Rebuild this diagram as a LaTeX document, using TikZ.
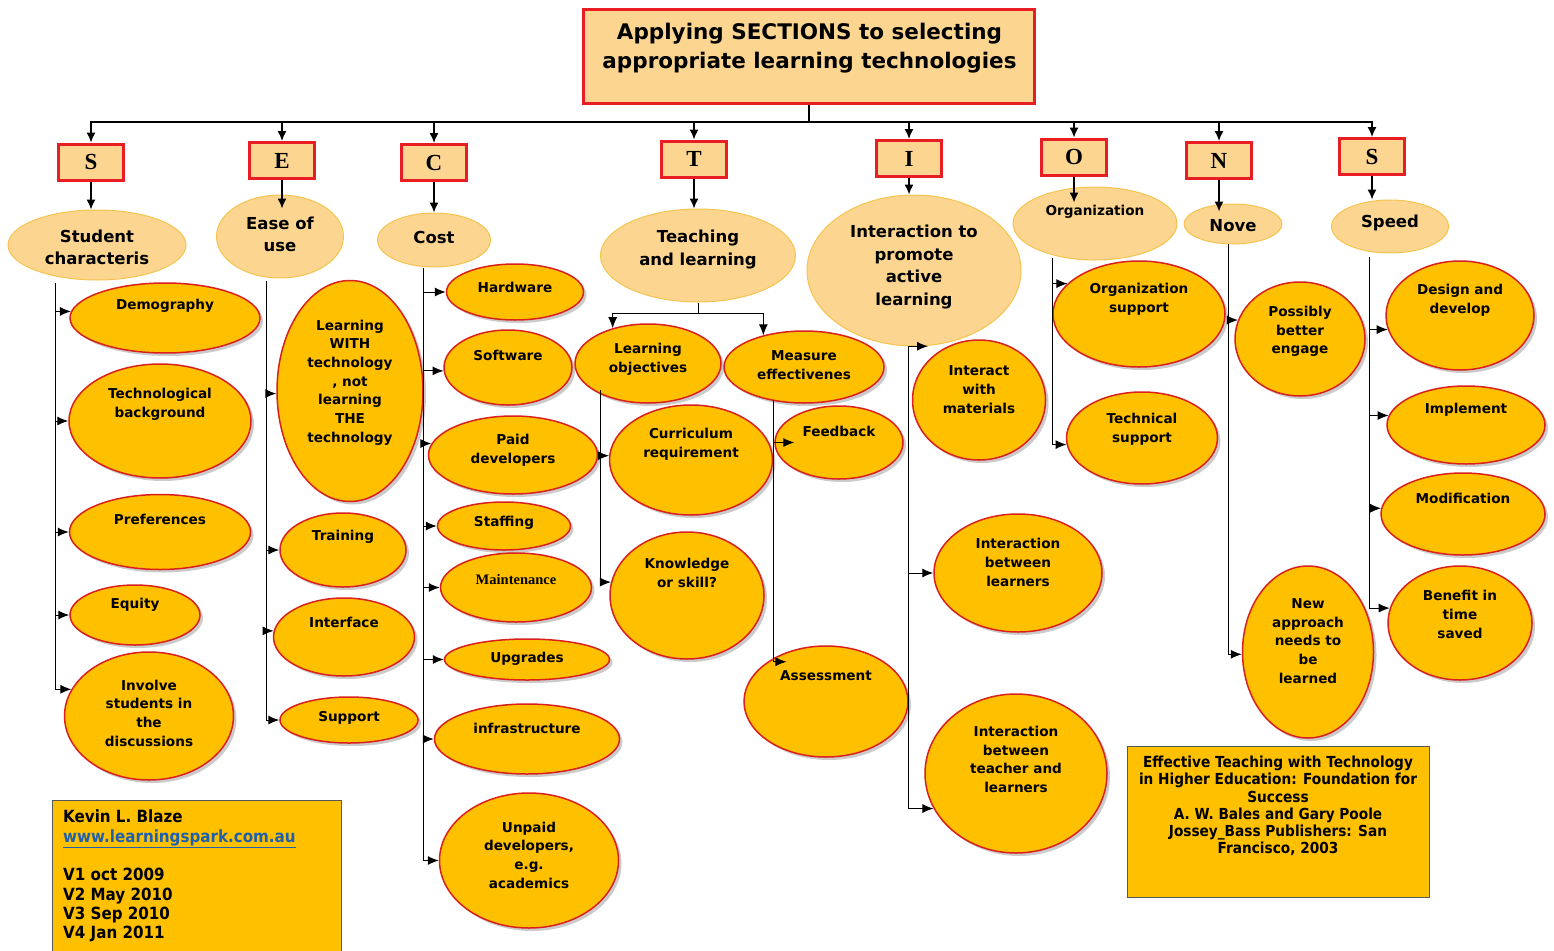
\documentclass[tikz,border=0pt]{standalone}
\usepackage{fontspec}
\setmainfont{DejaVu Sans}
\newfontfamily\letterfont{Liberation Serif}
\newfontfamily\narrowfont[FakeStretch=0.9]{DejaVu Sans}
\usepackage{tikz}
\usetikzlibrary{positioning, shapes.geometric, shadows, arrows.meta}
\definecolor{RedLine}{RGB}{232,30,36}
\definecolor{PaleFill}{RGB}{252,214,145}
\definecolor{CatLine}{RGB}{244,196,78}
\definecolor{ItemFill}{RGB}{255,192,0}
\definecolor{ItemLine}{RGB}{218,32,28}
\definecolor{LinkBlue}{RGB}{30,96,172}
\tikzset{TitleBox/.style={%
    shape=rectangle,%
    draw=RedLine,%
    fill=PaleFill,%
    line width=3pt,%
    inner sep=0pt,%
}}
\tikzset{TitleText/.style={%
    align=center,%
    inner sep=0pt,%
    font=\bfseries\fontsize{21.5}{29}\selectfont,%
}}
\tikzset{LetterBox/.style={%
    shape=rectangle,%
    draw=RedLine,%
    fill=PaleFill,%
    line width=3pt,%
    minimum width=65pt,%
    minimum height=36pt,%
    inner sep=0pt,%
    font=\letterfont\bfseries\fontsize{23}{23}\selectfont,%
}}
\tikzset{TopicNode/.style={%
    shape=ellipse,%
    draw=CatLine,%
    fill=PaleFill,%
    line width=1pt,%
    inner sep=0pt,%
}}
\tikzset{TopicText/.style={%
    align=center,%
    inner sep=0pt,%
    font=\bfseries\fontsize{16.5}{22.5}\selectfont,%
}}
\tikzset{TopicSmallNode/.style={TopicNode}}
\tikzset{TopicSmallText/.style={ItemText}}
\tikzset{ItemNode/.style={%
    shape=ellipse,%
    draw=ItemLine,%
    fill=ItemFill,%
    line width=1.5pt,%
    inner sep=0pt,%
    drop shadow={shadow xshift=3pt, shadow yshift=-3pt, fill=black!40, opacity=0.5},%
}}
\tikzset{ItemText/.style={%
    align=center,%
    inner sep=0pt,%
    font=\bfseries\fontsize{13.6}{18.7}\selectfont,%
}}
\tikzset{SerifNode/.style={ItemNode}}
\tikzset{SerifText/.style={%
    align=center,%
    inner sep=0pt,%
    font=\letterfont\bfseries\fontsize{14.5}{18.7}\selectfont,%
}}
\tikzset{InfoBox/.style={%
    shape=rectangle,%
    draw=black!65,%
    fill=ItemFill,%
    line width=1pt,%
    inner sep=0pt,%
}}
\tikzset{AuthorText/.style={%
    align=left,%
    inner sep=0pt,%
    font=\narrowfont\bfseries\fontsize{16.8}{19.3}\selectfont,%
}}
\tikzset{RefText/.style={%
    align=center,%
    inner sep=0pt,%
    font=\narrowfont\bfseries\fontsize{15.2}{17.2}\selectfont,%
}}
\tikzset{NormalEdge/.style={%
    line width=1.4pt,%
}}
\tikzset{BusArrow/.style={%
    -{Latex[length=10pt,width=9pt]},%
    line width=1.4pt,%
}}
\tikzset{EdgeArrow/.style={%
    -{Latex[length=11pt,width=9pt]},%
    line width=1pt,%
}}
% ellipse with its text: [style] name, x, y, width, height, text y, text
\NewDocumentCommand{\bubble}{O{Item} m m m m m m m}{%
    \node[#1Node, minimum width=#5, minimum height=#6] (#2) at (#3,#4) {};%
    \node[#1Text] (#2Text) at (#3,#7) {#8};%
}

\begin{document}
\begin{tikzpicture}[x=1pt, y=-1pt]
    \fill[white] (0,0) rectangle (1554,950);
    \useasboundingbox (0,0) rectangle (1554,950);

    % heading
    \node[TitleBox, minimum width=451, minimum height=94] (titleBox) at (809,56.5) {};
    \node[TitleText] (titleText) at (809.5,48) {Applying SECTIONS to selecting\\appropriate learning technologies};

    % the letters
    \node[LetterBox] (lS1) at (91,162) {S};
    \node[LetterBox] (lE) at (282,160.5) {E};
    \node[LetterBox] (lC) at (434,162.5) {C};
    \node[LetterBox] (lT) at (694,159) {T};
    \node[LetterBox] (lI) at (909,158.5) {I};
    \node[LetterBox] (lO) at (1074,157) {O};
    \node[LetterBox] (lN) at (1219,160.5) {N};
    \node[LetterBox] (lS2) at (1372,156.5) {S};

    % topics
    \bubble[Topic]{sc}{97}{245}{178}{70}{247.5}{Student\\characteris}
    \bubble[Topic]{ease}{280}{236.5}{127}{83}{234.5}{Ease of\\use}
    \bubble[Topic]{cost}{434}{240}{113}{54}{237}{Cost}
    \bubble[Topic]{tl}{698}{255.5}{195}{93}{249.5}{Teaching\\and learning}
    \bubble[Topic]{ipal}{914}{270.5}{214}{151}{267}{Interaction to\\promote\\active\\learning}
    \bubble[TopicSmall]{org}{1095}{223.5}{164}{73}{212}{Organization}
    \bubble[Topic]{nove}{1233}{224}{98}{40}{226}{Nove}
    \bubble[Topic]{speed}{1390}{226.5}{117}{53}{223}{Speed}

    % S
    \bubble{demo}{165}{318}{190}{70}{306}{Demography}
    \bubble{tech}{160}{421}{182}{114}{404.5}{Technological\\background}
    \bubble{pref}{160}{532}{181}{75}{519}{Preferences}
    \bubble{equity}{135}{615}{130}{60}{605}{Equity}
    \bubble{invol}{149}{716}{169}{128}{713}{Involve\\students in\\the\\discussions}
    % E
    \bubble{lwt}{350}{391}{146}{221}{382.5}{Learning\\WITH\\technology\\, not\\learning\\THE\\technology}
    \bubble{train}{343}{550}{126}{74}{537}{Training}
    \bubble{interf}{344}{637}{141}{78}{622}{Interface}
    \bubble{supp}{349}{720}{138}{46}{718}{Support}
    % C
    \bubble{hard}{515}{292}{137}{56}{287}{Hardware}
    \bubble{soft}{508}{367.5}{128}{75}{355}{Software}
    \bubble{paid}{513}{455}{169}{78}{450.5}{Paid\\developers}
    \bubble{staff}{504}{526}{133}{48}{523}{Staffing}
    \bubble[Serif]{maint}{516}{587.5}{151}{69}{580}{Maintenance}
    \bubble{upgr}{527}{659.5}{165}{41}{659}{Upgrades}
    \bubble{infra}{527}{739}{185}{70}{728}{infrastructure}
    \bubble{unpaid}{529}{860.5}{179}{135}{855}{Unpaid\\developers,\\e.g.\\academics}
    % T
    \bubble{lo}{648}{363.5}{146}{79}{359}{Learning\\objectives}
    \bubble{me}{804}{367}{160}{72}{365}{Measure\\effectivenes}
    \bubble{curr}{691}{460}{163}{110}{444.5}{Curriculum\\requirement}
    \bubble{know}{687}{595.5}{154}{127}{573}{Knowledge\\or skill?}
    \bubble{feed}{839}{442.5}{128}{73}{431}{Feedback}
    \bubble{assess}{826}{701.5}{164}{111}{676}{Assessment}
    % I
    \bubble{iwm}{979}{400}{133}{120}{389.5}{Interact\\with\\materials}
    \bubble{ibl}{1018}{573}{168}{118}{562.5}{Interaction\\between\\learners}
    \bubble{ibtl}{1016}{773.5}{182}{159}{759.5}{Interaction\\between\\teacher and\\learners}
    % O
    \bubble{osup}{1139}{314}{172}{106}{299.5}{Organization\\support}
    \bubble{tsup}{1142}{438}{151}{92}{429.5}{Technical\\support}
    % N
    \bubble{pbe}{1300}{339}{130}{114}{331.5}{Possibly\\better\\engage}
    \bubble{nal}{1308}{652}{131}{172}{641}{New\\approach\\needs to\\be\\learned}
    % S
    \bubble{dd}{1460}{315.5}{148}{109}{300}{Design and\\develop}
    \bubble{impl}{1466}{425}{158}{78}{410}{Implement}
    \bubble{modif}{1463}{514}{164}{82}{498}{Modification}
    \bubble{bits}{1460}{623}{144}{114}{614.5}{Benefit in\\time\\saved}

    % notes
    \node[InfoBox, minimum width=289, minimum height=160, anchor=north west] (authorBox) at (52,800) {};
    \node[AuthorText, anchor=north west] (authorText) at (63,810) {Kevin L. Blaze\\\textcolor{LinkBlue}{\underline{www.learningspark.com.au}}\\[19.3pt]V1 oct 2009\\V2 May 2010\\V3 Sep 2010\\V4 Jan 2011};
    \node[InfoBox, minimum width=302, minimum height=151, anchor=north west] (refBox) at (1127,746) {};
    \node[RefText] (refText) at (1278,806) {Effective Teaching with Technology\\in Higher Education: Foundation for\\Success\\A. W. Bales and Gary Poole\\Jossey\_Bass Publishers: San\\Francisco, 2003};

    % bus
    \coordinate (bus) at (809,122);
    \draw[NormalEdge] (titleBox.south) -- (bus);
    \foreach \l in {lS1,lE,lC,lT,lI,lO,lN,lS2}
        \draw[BusArrow] (bus) -| (\l.north);

    % letters to topics
    \coordinate (easeTip) at ([yshift=-14pt]ease.north);
    \coordinate (orgTip) at ([yshift=-16pt]org.north);
    \coordinate (noveTip) at ([yshift=-8pt]nove.north);
    \draw[BusArrow] (lS1) -- (lS1 |- sc.north);
    \draw[BusArrow] (lE) -- (lE |- easeTip);
    \draw[BusArrow] (lC) -- (lC |- cost.north);
    \draw[BusArrow] (lT) -- (lT |- tl.north);
    \draw[BusArrow] (lI) -- (lI |- ipal.north);
    \draw[BusArrow] (lO) -- (lO |- orgTip);
    \draw[BusArrow] (lN) -- (lN |- noveTip);
    \draw[BusArrow] (lS2) -- (lS2 |- speed.north);

    % trunks
    \coordinate (sTop) at (55,283);
    \coordinate (eTop) at (266,281);
    \coordinate (cTop) at (423,268);
    \coordinate (loTop) at (600,390);
    \coordinate (meTop) at (773,400);
    \coordinate (iTop) at (908,346);
    \coordinate (oTop) at (1052,258);
    \coordinate (nTop) at (1228,244);
    \coordinate (sTwoTop) at (1369,257);
    \coordinate (tFork) at ([yshift=-11pt]tl.south);
    \coordinate (feedTip) at ([xshift=20pt]feed.west);
    \coordinate (assessTip) at ([xshift=19pt]assess.north west);
    \coordinate (iwmTip) at ([xshift=-51pt, yshift=-7pt]iwm.north);

    \draw[EdgeArrow] (sTop) |- (invol.161);
    \foreach \n/\a in {demo/176, tech/180, pref/180, equity/180}
        \draw[EdgeArrow] (sTop |- \n.\a) -- (\n.\a);
    \draw[EdgeArrow] (eTop) |- (supp.180);
    \foreach \n/\a in {lwt/182, train/180, interf/175}
        \draw[EdgeArrow] (eTop |- \n.\a) -- (\n.\a);
    \draw[EdgeArrow] (cTop) |- (unpaid.180);
    \foreach \n/\a in {hard/180, soft/183, paid/172, staff/180, maint/180, upgr/180, infra/180}
        \draw[EdgeArrow] (cTop |- \n.\a) -- (\n.\a);

    \draw[NormalEdge, line width=1pt] (tl.south) -- (tFork);
    \draw[EdgeArrow] (tFork) -| (lo.135);
    \draw[EdgeArrow] (tFork) -| (me.142);
    \draw[EdgeArrow] (loTop) |- (know.170);
    \draw[EdgeArrow] (loTop |- curr.177) -- (curr.177);
    \draw[EdgeArrow] (meTop) |- (assessTip);
    \draw[EdgeArrow] (meTop |- feedTip) -- (feedTip);

    \draw[EdgeArrow] (iTop) |- (ibtl.203);
    \draw[EdgeArrow] (iTop |- iwmTip) -- (iwmTip);
    \draw[EdgeArrow] (iTop |- ibl.180) -- (ibl.180);

    \draw[EdgeArrow] (oTop) |- (tsup.185);
    \draw[EdgeArrow] (oTop |- osup.157) -- (osup.157);

    \draw[EdgeArrow] (nTop) |- (nal.182);
    \draw[EdgeArrow] (nTop |- pbe.163) -- (pbe.163);

    \draw[EdgeArrow] (sTwoTop) |- (bits.168);
    \foreach \n/\a in {dd/191, impl/173, modif/176}
        \draw[EdgeArrow] (sTwoTop |- \n.\a) -- (\n.\a);
\end{tikzpicture}
\end{document}
